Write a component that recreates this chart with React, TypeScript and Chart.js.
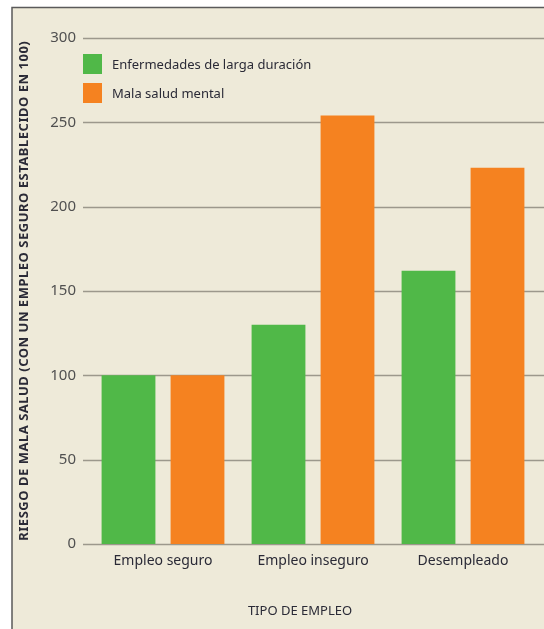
import React, { useEffect, useRef } from "react";
import { Chart, registerables } from "chart.js";

Chart.register(...registerables);

const categories = ["Empleo seguro", "Empleo inseguro", "Desempleado"];
const seriesNames = ["Enfermedades de larga duración", "Mala salud mental"];
const longTermIllness = [100, 130, 162];
const poorMentalHealth = [100, 254, 223];
const yTicks = [0, 50, 100, 150, 200, 250, 300];
const yTitle = "RIESGO DE MALA SALUD (CON UN EMPLEO SEGURO ESTABLECIDO EN 100)";
const xTitle = "TIPO DE EMPLEO";

const GREEN = "#50b848";
const ORANGE = "#f58220";
const BG = "#eeead9";
const FONT = "'Noto Sans', sans-serif";

const framePlugin = {
  id: "frame",
  beforeDraw(chart: any) {
    const { ctx, width, height } = chart;
    ctx.save();
    ctx.fillStyle = "#ffffff";
    ctx.fillRect(0, 0, width, height);
    ctx.fillStyle = BG;
    ctx.fillRect(12, 7, width - 12, height - 7);
    ctx.strokeStyle = "#5a5a5a";
    ctx.lineWidth = 1.5;
    ctx.beginPath();
    ctx.moveTo(12, height);
    ctx.lineTo(12, 7.5);
    ctx.lineTo(width, 7.5);
    ctx.stroke();
    ctx.restore();
  },
  beforeDatasetsDraw(chart: any) {
    const { ctx, width } = chart;
    const y = chart.scales.y;
    ctx.save();
    ctx.strokeStyle = "#9c988c";
    ctx.lineWidth = 1.5;
    yTicks.forEach((v) => {
      const py = Math.round(y.getPixelForValue(v)) + 0.5;
      ctx.beginPath();
      ctx.moveTo(chart.chartArea.left - 5, py);
      ctx.lineTo(width, py);
      ctx.stroke();
    });
    ctx.restore();
  },
  afterDraw(chart: any) {
    const { ctx, chartArea } = chart;
    ctx.save();
    // legend
    chart.data.datasets.forEach((ds: any, i: number) => {
      const top = 54 + i * 29;
      ctx.fillStyle = ds.backgroundColor;
      ctx.fillRect(83, top, 19, 20);
      ctx.fillStyle = "#2a2a36";
      ctx.font = `13px ${FONT}`;
      ctx.textBaseline = "middle";
      ctx.textAlign = "left";
      ctx.fillText(ds.label, 112, top + 11);
    });
    // x title
    ctx.fillStyle = "#2a2a36";
    ctx.font = `13px ${FONT}`;
    ctx.textAlign = "center";
    ctx.textBaseline = "middle";
    ctx.fillText(xTitle, 300, 611);
    // y title
    ctx.font = `bold 13px ${FONT}`;
    const w = ctx.measureText(yTitle).width;
    const target = 500;
    const spacing = (target - w) / yTitle.length;
    (ctx as any).letterSpacing = `${spacing}px`;
    ctx.translate(24, (chartArea.top + chartArea.bottom) / 2);
    ctx.rotate(-Math.PI / 2);
    ctx.fillText(yTitle, spacing / 2, 0);
    ctx.restore();
  },
};

export default function App() {
  const ref = useRef<HTMLCanvasElement>(null);
  useEffect(() => {
    if (!ref.current) return;
    const chart = new Chart(ref.current, {
      type: "bar",
      data: {
        labels: categories,
        datasets: [
          { label: seriesNames[0], data: longTermIllness, backgroundColor: GREEN },
          { label: seriesNames[1], data: poorMentalHealth, backgroundColor: ORANGE },
        ],
      },
      options: {
        responsive: false,
        animation: false,
        layout: { padding: { left: 12, right: 6, top: 38, bottom: 0 } },
        datasets: {
          bar: { barPercentage: 0.78, categoryPercentage: 0.92 },
        },
        plugins: {
          legend: { display: false },
          tooltip: { enabled: false },
        },
        scales: {
          x: {
            grid: { display: false, drawTicks: false },
            border: { display: false },
            ticks: {
              color: "#2a2a36",
              font: { family: FONT, size: 14 },
              padding: 9,
            },
            afterFit(scale: any) {
              scale.height = 85;
            },
          },
          y: {
            min: 0,
            max: 300,
            afterBuildTicks(scale: any) {
              scale.ticks = yTicks.map((v) => ({ value: v }));
            },
            grid: { display: false, drawTicks: false },
            border: { display: false },
            ticks: {
              color: "#505050",
              font: { family: FONT, size: 15 },
              padding: 12,
            },
            afterFit(scale: any) {
              scale.width = 76;
            },
          },
        },
      },
      plugins: [framePlugin],
    });
    return () => chart.destroy();
  }, []);
  return (
    <div style={{ position: "fixed", left: 0, top: 0, width: 544, height: 629 }}>
      <canvas ref={ref} width={544} height={629} style={{ display: "block" }} />
    </div>
  );
}
